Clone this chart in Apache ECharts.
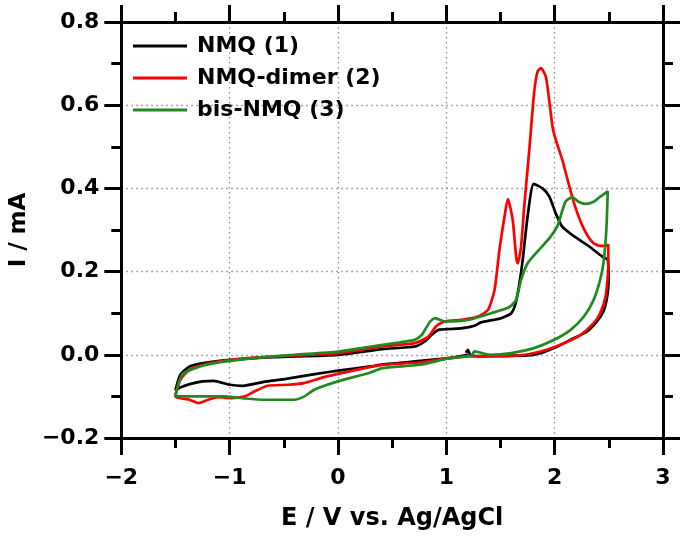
<!DOCTYPE html>
<html>
<head>
<meta charset="utf-8">
<script src="https://cdn.jsdelivr.net/npm/echarts@6/dist/echarts.min.js"></script>
<style>
html,body{margin:0;padding:0;background:#fff;}
#chart{width:685px;height:539px;}
</style>
</head>
<body>
<div id="chart"></div>
<script>
// ---- Data (E in V vs. Ag/AgCl, I in mA) ----
const seriesNames = ['NMQ (1)', 'NMQ-dimer (2)', 'bis-NMQ (3)'];
const seriesColors = ['#000000', '#ff0000', '#1f8a1f'];

// NMQ (1)
const nmqE = [1.20, 1.02, 0.755, 0.55, 0.41, 0.30, 0.0, -0.2, -0.48, -0.66, -0.88, -1.0, -1.15, -1.25, -1.36, -1.45, -1.5,
  -1.455, -1.37, -1.21, -0.99, -0.59, 0.0, 0.41, 0.71, 0.80, 0.865, 0.927, 1.04, 1.15, 1.26, 1.32, 1.506, 1.60, 1.64, 1.675, 1.705, 1.75, 1.806, 1.888, 1.95, 2.01, 2.07, 2.163, 2.30, 2.44, 2.49,
  2.498, 2.48, 2.45, 2.39, 2.30, 2.147, 2.026, 1.87, 1.72, 1.50, 1.30, 1.22, 1.20, 1.18];
const nmqI = [0.0, -0.008, -0.0145, -0.020, -0.023, -0.028, -0.038, -0.046, -0.058, -0.064, -0.0745, -0.072, -0.0625, -0.064, -0.070, -0.078, -0.085,
  -0.048, -0.028, -0.0185, -0.012, -0.0056, 0.0, 0.0137, 0.020, 0.032, 0.048, 0.060, 0.062, 0.064, 0.070, 0.078, 0.088, 0.100, 0.124, 0.172, 0.228, 0.332, 0.411, 0.400, 0.381, 0.340, 0.308, 0.288, 0.264, 0.236, 0.228,
  0.180, 0.132, 0.104, 0.080, 0.056, 0.036, 0.020, 0.004, -0.002, -0.002, -0.003, 0.0, 0.012, 0.005];

// NMQ-dimer (2)
const dimerE = [1.2, 1.0, 0.755, 0.41, 0.30, 0.0, -0.16, -0.315, -0.465, -0.65, -0.77, -0.86, -0.985, -1.106, -1.20, -1.29, -1.37, -1.5,
  -1.455, -1.37, -1.21, -0.99, -0.59, 0.0, 0.41, 0.71, 0.835, 0.91, 0.987, 1.14, 1.293, 1.385, 1.445, 1.49, 1.537, 1.568, 1.613, 1.644, 1.659, 1.69, 1.72, 1.766, 1.81, 1.842, 1.873, 1.918, 1.949, 1.98, 2.01, 2.07, 2.12, 2.178, 2.24, 2.30, 2.36, 2.42, 2.47, 2.495,
  2.495, 2.47, 2.42, 2.36, 2.24, 2.086, 1.87, 1.66, 1.40, 1.2];
const dimerI = [-0.004, -0.009, -0.0185, -0.024, -0.029, -0.046, -0.056, -0.068, -0.072, -0.0745, -0.088, -0.100, -0.104, -0.102, -0.108, -0.116, -0.108, -0.100,
  -0.060, -0.036, -0.0216, -0.012, -0.004, 0.004, 0.020, 0.028, 0.044, 0.070, 0.080, 0.084, 0.092, 0.108, 0.156, 0.252, 0.332, 0.374, 0.324, 0.236, 0.220, 0.260, 0.360, 0.493, 0.629, 0.681, 0.689, 0.669, 0.613, 0.549, 0.517, 0.469, 0.420, 0.365, 0.320, 0.288, 0.268, 0.262, 0.262, 0.265,
  0.212, 0.140, 0.100, 0.076, 0.048, 0.028, 0.008, -0.002, -0.004, -0.004];

// bis-NMQ (3)
const bisE = [1.24, 1.02, 0.755, 0.41, 0.30, 0.02, -0.1, -0.22, -0.31, -0.405, -0.68, -0.86, -1.06, -1.37, -1.5,
  -1.44, -1.32, -1.14, -0.77, -0.4, 0.0, 0.41, 0.71, 0.774, 0.85, 0.896, 0.987, 1.20, 1.415, 1.583, 1.644, 1.69, 1.75, 1.84, 1.95, 2.026, 2.10, 2.163, 2.22, 2.285, 2.36, 2.42, 2.49,
  2.477, 2.45, 2.42, 2.36, 2.27, 2.147, 1.995, 1.81, 1.60, 1.40, 1.26, 1.24];
const bisI = [-0.002, -0.009, -0.024, -0.032, -0.0425, -0.062, -0.072, -0.084, -0.100, -0.108, -0.108, -0.105, -0.100, -0.100, -0.098,
  -0.048, -0.032, -0.020, -0.008, 0.0, 0.008, 0.024, 0.036, 0.048, 0.080, 0.088, 0.080, 0.084, 0.100, 0.115, 0.132, 0.180, 0.220, 0.248, 0.280, 0.310, 0.368, 0.379, 0.368, 0.363, 0.368, 0.380, 0.393,
  0.300, 0.220, 0.180, 0.132, 0.092, 0.060, 0.036, 0.016, 0.004, 0.0, 0.008, 0.0];

// Axis ranges / ticks
const xMin = -2, xMax = 3, xStep = 1;
const yMin = -0.2, yMax = 0.8, yStep = 0.2;
const xTitle = 'E / V vs. Ag/AgCl';
const yTitle = 'I / mA';

// ---- Build chart ----
function zip(a, b) { return a.map((v, i) => [v, b[i]]); }
const allE = [nmqE, dimerE, bisE];
const allI = [nmqI, dimerI, bisI];

const FONT = 'DejaVu Sans';
const lbl = {fontFamily: FONT, fontWeight: 'bold', fontSize: 22, color: '#000'};
const minus = s => s.replace('-', '\u2212');
const axLine = {show: true, onZero: false, lineStyle: {color: '#000', width: 3}};
const axTick = {show: true, inside: false, length: 17, lineStyle: {color: '#000', width: 3}};
const minTick = {show: true, splitNumber: 2, length: 10, lineStyle: {color: '#000', width: 3}};
const grid = {show: true, lineStyle: {color: '#8a8a8a', width: 1.3, type: [1.5, 3.5]}};

const chart = echarts.init(document.getElementById('chart'), null, {renderer: 'canvas'});
chart.setOption({
  animation: false,
  backgroundColor: '#fff',
  grid: {left: 117, right: 22, top: 22, bottom: 101, containLabel: false},
  legend: {
    data: seriesNames,
    orient: 'vertical',
    left: 133, top: 35,
    padding: 0,
    icon: 'rect',
    itemWidth: 54, itemHeight: 3,
    itemGap: 10,
    textStyle: {fontFamily: FONT, fontWeight: 'bold', fontSize: 22, color: '#000', lineHeight: 22, padding: [0, 0, 0, 5]}
  },
  xAxis: [{
    type: 'value', min: xMin, max: xMax, interval: xStep, position: 'bottom',
    axisLine: axLine, axisTick: axTick, minorTick: minTick,
    axisLabel: Object.assign({margin: 29, formatter: v => minus(String(v))}, lbl),
    splitLine: grid,
    name: xTitle, nameLocation: 'middle', nameGap: 69,
    nameTextStyle: {fontFamily: FONT, fontWeight: 'bold', fontSize: 24, color: '#000'}
  }, {
    type: 'value', min: xMin, max: xMax, interval: xStep, position: 'top',
    axisLine: axLine, axisTick: axTick, minorTick: minTick,
    axisLabel: {show: false}, splitLine: {show: false}
  }],
  yAxis: [{
    type: 'value', min: yMin, max: yMax, interval: yStep, position: 'left',
    axisLine: axLine, axisTick: axTick, minorTick: minTick,
    axisLabel: Object.assign({margin: 22, formatter: v => minus((Math.abs(v) < 1e-9 ? 0 : v).toFixed(1))}, lbl),
    splitLine: grid,
    name: yTitle, nameLocation: 'middle', nameGap: 88,
    nameTextStyle: {fontFamily: FONT, fontWeight: 'bold', fontSize: 23, color: '#000'}
  }, {
    type: 'value', min: yMin, max: yMax, interval: yStep, position: 'right',
    axisLine: axLine, axisTick: axTick, minorTick: minTick,
    axisLabel: {show: false}, splitLine: {show: false}
  }],
  series: seriesNames.map((name, k) => ({
    name: name,
    type: 'line',
    xAxisIndex: 0, yAxisIndex: 0,
    data: zip(allE[k], allI[k]),
    showSymbol: false, symbol: 'none',
    smooth: 0.2,
    color: seriesColors[k],
    lineStyle: {color: seriesColors[k], width: 2.7},
    z: 2 + k
  }))
});
</script>
</body>
</html>
